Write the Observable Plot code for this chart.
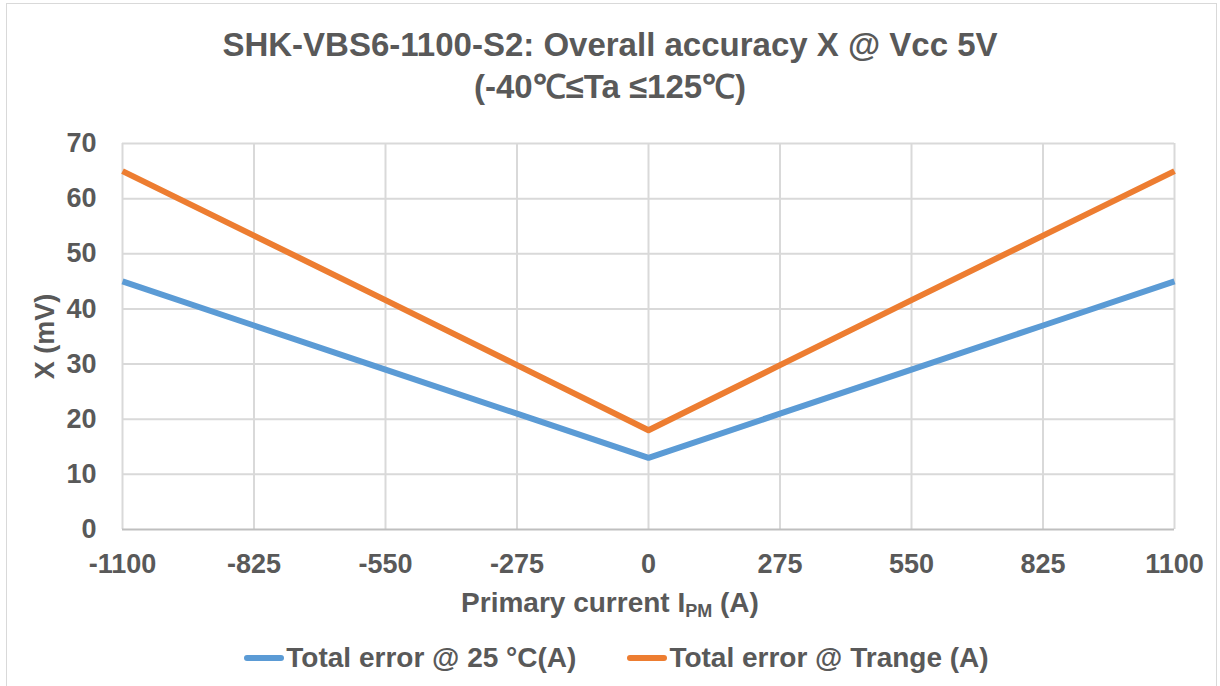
<!DOCTYPE html>
<html>
<head>
<meta charset="utf-8">
<script src="https://cdn.jsdelivr.net/npm/d3@7"></script>
<script src="https://cdn.jsdelivr.net/npm/@observablehq/plot@0.6"></script>
<style>
  html, body { margin: 0; padding: 0; background: #fff; }
  body { width: 1220px; height: 686px; position: relative; overflow: hidden; font-family: "Liberation Sans", Arial, sans-serif; }
  #frame { position: absolute; left: 6px; top: 3px; width: 1211px; height: 690px; border: 1px solid #d9d9d9; box-sizing: border-box; }
  #title { position: absolute; left: 0; top: 24px; width: 1220px; text-align: center; color: #595959; font-weight: bold; font-size: 33px; line-height: 42px; }
  #chart { position: absolute; left: 0; top: 120px; }
  #xlabel { position: absolute; left: 0; top: 587px; width: 1220px; text-align: center; color: #595959; font-weight: bold; font-size: 28px; line-height: 32px; }
  #xlabel sub { font-size: 18px; line-height: 0; vertical-align: -5px; }
  #legend { position: absolute; left: 0; top: 642px; width: 1220px; box-sizing: border-box; padding-left: 13px; display: flex; justify-content: center; gap: 51px; color: #595959; font-weight: bold; font-size: 28px; line-height: 32px; }
  .item { display: flex; align-items: center; }
  .sw { display: inline-block; width: 40px; height: 6px; border-radius: 3px; margin-right: 2px; }
</style>
</head>
<body>
<div id="frame"></div>
<div id="title">SHK-VBS6-1100-S2: Overall accuracy X @ Vcc 5V<br>(-40℃≤Ta ≤125℃)</div>
<div id="chart"></div>
<div id="xlabel">Primary current I<sub>PM</sub> (A)</div>
<div id="legend"></div>
<script>
const current = [-1100, -825, -550, -275, 0, 275, 550, 825, 1100];
const error25 = [45, 37, 29, 21, 13, 21, 29, 37, 45];
const errorTrange = [65, 53.3, 41.6, 29.8, 18, 29.8, 41.6, 53.3, 65];
const seriesNames = ["Total error @ 25 °C(A)", "Total error @ Trange (A)"];
const seriesColors = ["#5B9BD5", "#ED7D31"];
const yTicks = [0, 10, 20, 30, 40, 50, 60, 70];

const data = [
  ...current.map((c, i) => ({x: c, y: error25[i], s: seriesNames[0]})),
  ...current.map((c, i) => ({x: c, y: errorTrange[i], s: seriesNames[1]}))
];

const plot = Plot.plot({
  width: 1220,
  height: 505,
  marginLeft: 122,
  marginRight: 46,
  marginTop: 23,
  marginBottom: 96,
  style: {fontFamily: "'Liberation Sans', Arial, sans-serif", fontWeight: "bold", fontSize: "27px", color: "#595959", background: "transparent"},
  x: {domain: [-1100, 1100], ticks: current},
  y: {domain: [0, 70], ticks: yTicks},
  color: {domain: seriesNames, range: seriesColors},
  marks: [
    Plot.ruleX(current, {stroke: "#d9d9d9", strokeWidth: 2, strokeOpacity: 1}),
    Plot.ruleY(yTicks.filter(d => d > 0), {stroke: "#d9d9d9", strokeWidth: 2, strokeOpacity: 1}),
    Plot.ruleY([0], {stroke: "#bfbfbf", strokeWidth: 2, strokeOpacity: 1}),
    Plot.axisX({ticks: current, tickSize: 0, tickPadding: 24, label: null, fontSize: 27, tickFormat: d => String(d)}),
    Plot.axisY({ticks: yTicks, tickSize: 0, tickPadding: 26, label: "X (mV)", labelAnchor: "center", labelArrow: "none", labelOffset: 88, fontSize: 27, tickFormat: d => String(d)}),
    Plot.line(data, {x: "x", y: "y", z: "s", stroke: "s", strokeWidth: 6, strokeLinejoin: "round", strokeLinecap: "butt"})
  ]
});
document.getElementById("chart").appendChild(plot);

const legend = document.getElementById("legend");
seriesNames.forEach((n, i) => {
  const it = document.createElement("div");
  it.className = "item";
  const sw = document.createElement("span");
  sw.className = "sw";
  sw.style.background = seriesColors[i];
  const t = document.createElement("span");
  t.textContent = n;
  it.appendChild(sw);
  it.appendChild(t);
  legend.appendChild(it);
});
</script>
</body>
</html>
